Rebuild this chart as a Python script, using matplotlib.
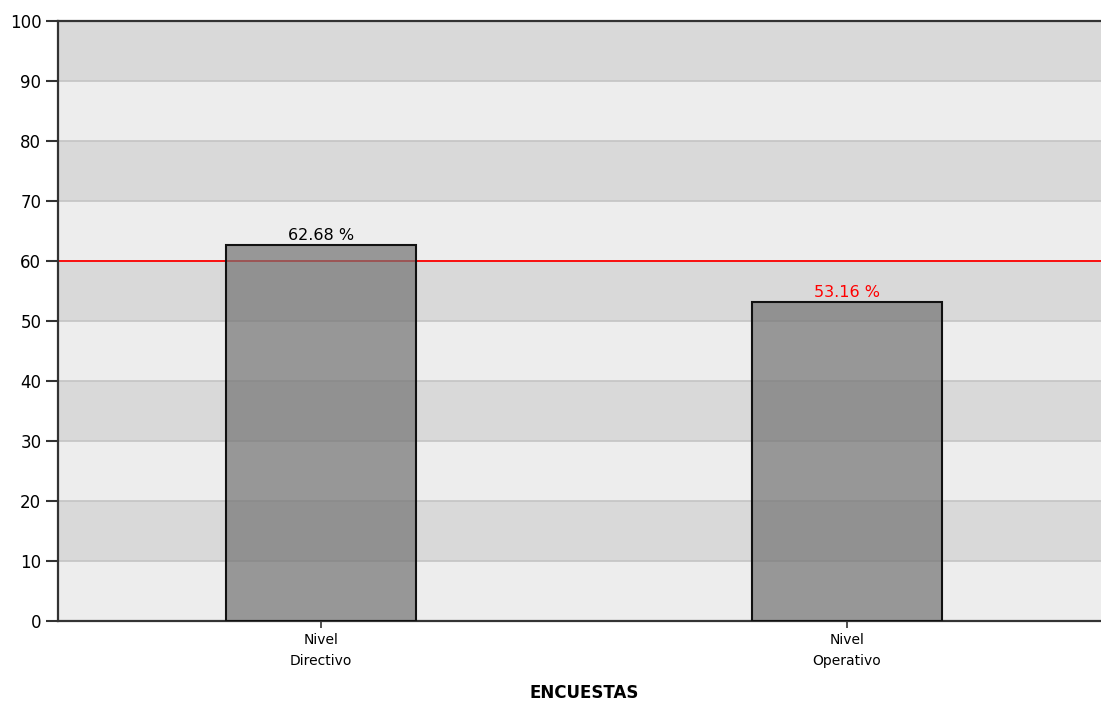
import numpy as np
import matplotlib.pyplot as plt

plt.rcParams['font.family'] = ['DejaVu Sans']

# data
categories = ['Nivel\nDirectivo', 'Nivel\nOperativo']
values = [62.68, 53.16]
target = 60
yticks = list(range(0, 101, 10))

fig = plt.figure(figsize=(11.01, 7.09), dpi=100)
ax = fig.add_axes([58/1101, 88/709, 1052/1101, 600/709])

# striped background bands
for lo in range(0, 100, 10):
    col = '#ededed' if (lo // 10) % 2 == 0 else '#d9d9d9'
    ax.axhspan(lo, lo + 10, color=col, zorder=0, lw=0)
for t in yticks[1:-1]:
    ax.axhline(t, color='#c4c4c4', lw=1.2, zorder=1)

x = np.arange(len(categories))
ax.axhline(target, color='#ff0000', lw=1.3, zorder=2)
# semi-transparent fill, solid edge
ax.bar(x, values, width=0.36, color=(0.45, 0.45, 0.45, 0.7),
       edgecolor='#111111', linewidth=1.5, zorder=3)

for xi, v in zip(x, values):
    c = 'black' if v >= target else '#ff0000'
    ax.text(xi, v + 0.3, f'{v:.2f} %', ha='center', va='bottom',
            fontsize=11.5, color=c, zorder=4)

ax.set_xlim(-0.5, 1.5)
ax.set_ylim(0, 100)
ax.set_yticks(yticks)
ax.set_yticklabels([str(t) for t in yticks], fontsize=12)
ax.set_xticks(x)
ax.set_xticklabels(categories, fontsize=10, linespacing=1.55)
ax.tick_params(axis='y', length=9, width=1.5, color='#333333', pad=3)
ax.tick_params(axis='x', length=5, width=1.2, color='#333333', pad=4)
ax.set_xlabel('ENCUESTAS', fontsize=12, fontweight='bold', labelpad=12)

for s in ['left', 'bottom', 'top']:
    ax.spines[s].set_color('#333333')
    ax.spines[s].set_linewidth(1.6)
ax.spines['right'].set_visible(False)

fig.savefig('out.png', dpi=100)
